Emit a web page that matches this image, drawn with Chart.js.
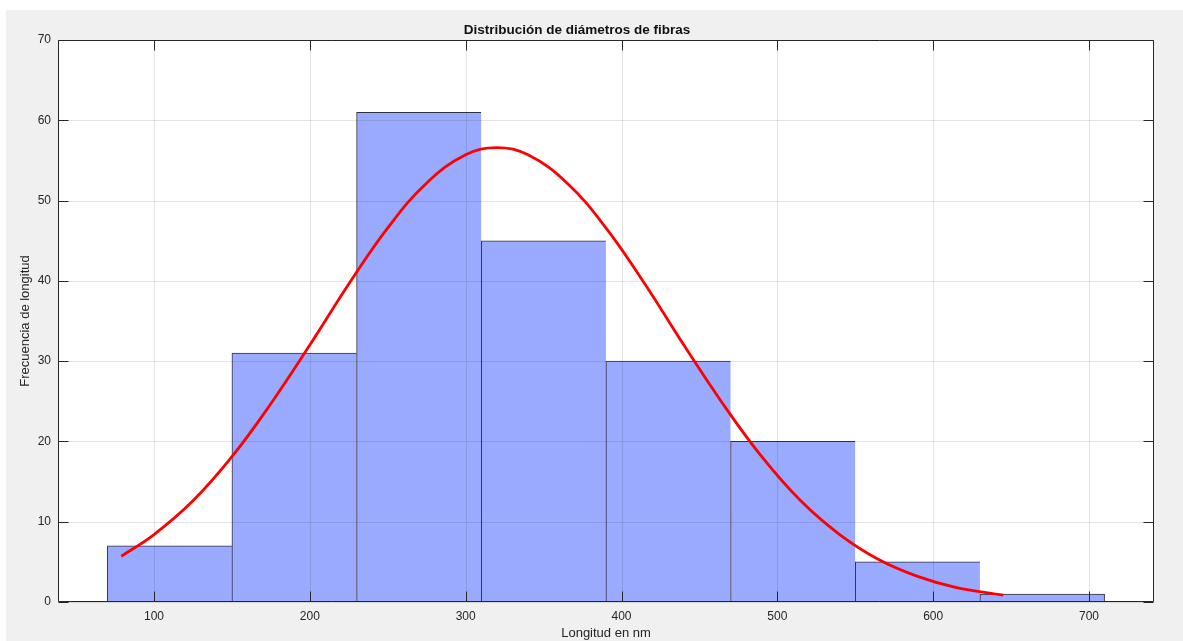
<!DOCTYPE html>
<html>
<head>
<meta charset="utf-8">
<script src="https://cdn.jsdelivr.net/npm/chart.js@4"></script>
<style>
  html, body { margin: 0; padding: 0; background: #fff; }
  #wrap { position: relative; width: 1183px; height: 641px; }
</style>
</head>
<body>
<div id="wrap"><canvas id="histChart"></canvas></div>
<script>
// Histogram data
const binEdges = [70, 150, 230, 310, 390, 470, 550, 630, 710];
const counts = [7, 31, 61, 45, 30, 20, 5, 1];

// Fitted normal curve
const curveX = [79, 100, 125, 150, 175, 200, 225, 250, 275, 300, 320, 340, 365, 390, 415, 440, 465, 490, 515, 540, 565, 590, 615, 645];
const curveY = [5.7, 8.4, 12.6, 18.1, 24.7, 32.0, 39.6, 46.6, 52.2, 55.7, 56.6, 55.7, 52.2, 46.6, 39.6, 32.0, 24.7, 18.1, 12.6, 8.4, 5.3, 3.2, 1.8, 0.85];

const xTicks = [100, 200, 300, 400, 500, 600, 700];
const yTicks = [0, 10, 20, 30, 40, 50, 60, 70];

const FONT = "'Liberation Sans', Arial, Helvetica, sans-serif";
const AXIS_COLOR = '#262626';

(function () {
    const barData = counts.map((c, i) => ({ x: (binEdges[i] + binEdges[i + 1]) / 2, y: c }));
    const lineData = curveX.map((x, i) => ({ x: x, y: curveY[i] }));

    // figure + axes background
    const bgPlugin = {
        id: 'bg',
        beforeDraw(chart) {
            const { ctx, chartArea: a } = chart;
            ctx.save();
            ctx.fillStyle = '#ffffff';
            ctx.fillRect(0, 0, chart.width, chart.height);
            ctx.fillStyle = '#f0f0f0';
            ctx.fillRect(6, 10, chart.width - 6, chart.height - 10);
            ctx.fillStyle = '#ffffff';
            ctx.fillRect(a.left, a.top, a.right - a.left, a.bottom - a.top);
            ctx.restore();
        }
    };

    // grid drawn over the bars, like MATLAB
    const gridPlugin = {
        id: 'overGrid',
        afterDatasetDraw(chart, args) {
            if (args.meta.type !== 'bar') return;
            const { ctx, chartArea: a, scales } = chart;
            ctx.save();
            ctx.strokeStyle = 'rgba(38,38,38,0.13)';
            ctx.lineWidth = 1;
            ctx.beginPath();
            xTicks.forEach(v => {
                const px = Math.round(scales.x.getPixelForValue(v)) + 0.5;
                ctx.moveTo(px, a.top); ctx.lineTo(px, a.bottom);
            });
            yTicks.forEach(v => {
                const py = Math.round(scales.y.getPixelForValue(v)) + 0.5;
                ctx.moveTo(a.left, py); ctx.lineTo(a.right, py);
            });
            ctx.stroke();
            ctx.restore();
        }
    };

    // box + inward tick marks on all four sides
    const boxPlugin = {
        id: 'box',
        afterDraw(chart) {
            const { ctx, chartArea: a, scales } = chart;
            const L = Math.round(a.left) + 0.5, R = Math.round(a.right) - 0.5;
            const T = Math.round(a.top) + 0.5, B = Math.round(a.bottom) - 0.5;
            const tl = 10;
            ctx.save();
            ctx.strokeStyle = AXIS_COLOR;
            ctx.lineWidth = 1;
            ctx.beginPath();
            ctx.rect(L, T, R - L, B - T);
            xTicks.forEach(v => {
                const px = Math.round(scales.x.getPixelForValue(v)) + 0.5;
                ctx.moveTo(px, B); ctx.lineTo(px, B - tl);
                ctx.moveTo(px, T); ctx.lineTo(px, T + tl);
            });
            yTicks.forEach(v => {
                const py = Math.round(scales.y.getPixelForValue(v)) + 0.5;
                ctx.moveTo(L, py); ctx.lineTo(L + tl, py);
                ctx.moveTo(R, py); ctx.lineTo(R - tl, py);
            });
            ctx.stroke();
            ctx.restore();
        }
    };

    const last = counts.length - 1;

    new Chart(document.getElementById('histChart'), {
        type: 'bar',
        data: {
            datasets: [{
                type: 'line',
                data: lineData,
                borderColor: '#ff0000',
                borderWidth: 2.8,
                pointRadius: 0,
                tension: 0.4,
                fill: false,
                order: 0
            }, {
                type: 'bar',
                data: barData,
                backgroundColor: '#99aaff',
                borderColor: 'rgba(25,25,45,0.9)',
                borderWidth: ctx => ({ top: 1, left: 1, bottom: 0, right: ctx.dataIndex === last ? 1 : 0 }),
                borderSkipped: false,
                barPercentage: 1,
                categoryPercentage: 1,
                order: 1
            }]
        },
        options: {
            responsive: true,
            maintainAspectRatio: false,
            animation: false,
            layout: { padding: { top: 0, right: 29, bottom: 0, left: 0 } },
            plugins: {
                legend: { display: false },
                tooltip: { enabled: false },
                title: {
                    display: true,
                    text: 'Distribución de diámetros de fibras',
                    color: '#111111',
                    font: { family: FONT, size: 13.5, weight: 'bold' },
                    padding: { top: 22, bottom: 1.8 }
                }
            },
            scales: {
                x: {
                    type: 'linear',
                    min: 38.4,
                    max: 741.7,
                    offset: false,
                    afterBuildTicks: s => { s.ticks = xTicks.map(v => ({ value: v })); },
                    afterFit: s => { s.height = 39; },
                    grid: { display: false, drawTicks: false, offset: false },
                    border: { display: false },
                    ticks: { color: AXIS_COLOR, padding: 7, maxRotation: 0, font: { family: FONT, size: 12 } },
                    title: {
                        display: true,
                        text: 'Longitud en nm',
                        color: AXIS_COLOR,
                        font: { family: FONT, size: 13 },
                        padding: { top: 0, bottom: 0 }
                    }
                },
                y: {
                    min: 0,
                    max: 70,
                    afterBuildTicks: s => { s.ticks = yTicks.map(v => ({ value: v })); },
                    afterFit: s => { s.width = 58; },
                    grid: { display: false, drawTicks: false },
                    border: { display: false },
                    ticks: { color: AXIS_COLOR, padding: 7, font: { family: FONT, size: 12 } },
                    title: {
                        display: true,
                        text: 'Frecuencia de longitud',
                        color: AXIS_COLOR,
                        font: { family: FONT, size: 13 },
                        padding: { top: 18, bottom: 0 }
                    }
                }
            }
        },
        plugins: [bgPlugin, gridPlugin, boxPlugin]
    });
})();
</script>
</body>
</html>
